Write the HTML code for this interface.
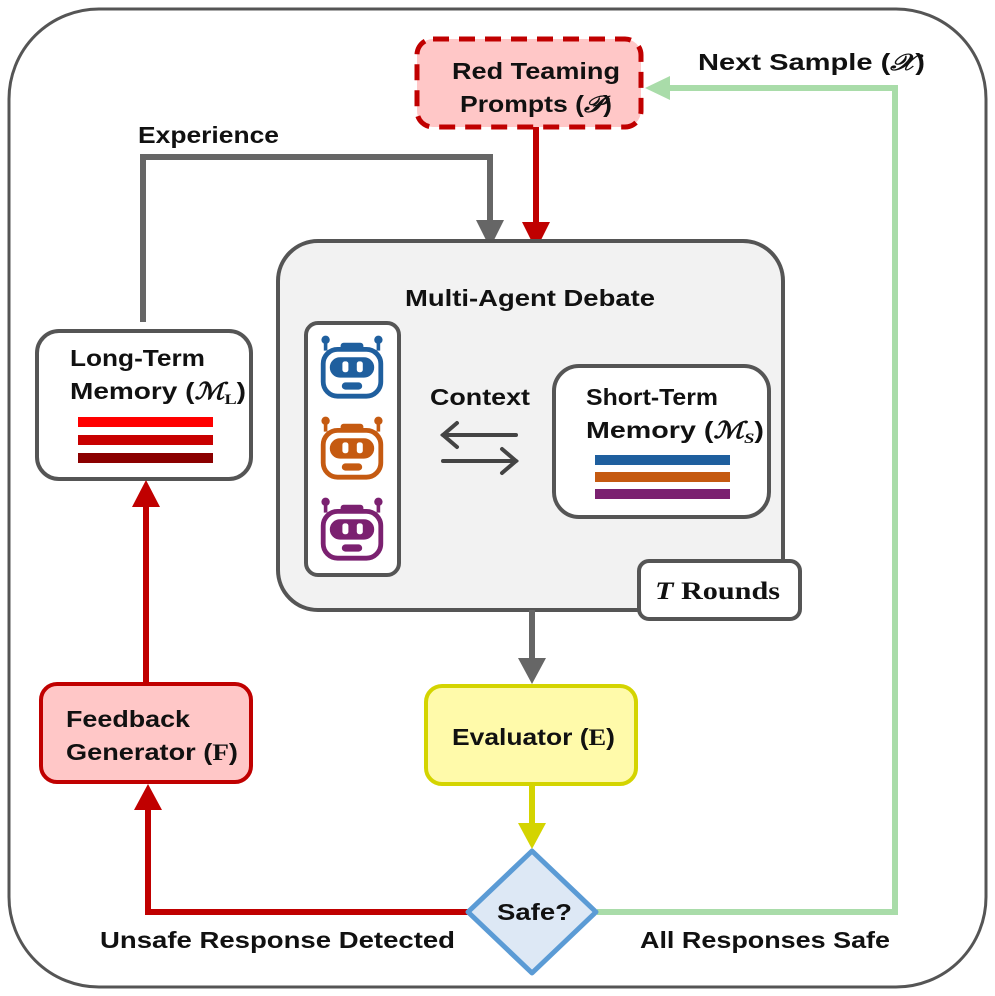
<!DOCTYPE html>
<html><head><meta charset="utf-8"><style>
html,body{margin:0;padding:0;background:#fff;}
svg{display:block;}
text{font-family:"Liberation Sans",sans-serif;font-weight:bold;fill:#111;}
.m{font-family:"Liberation Serif",serif;font-style:italic;}
</style></head><body>
<svg width="995" height="996" viewBox="0 0 995 996" xmlns="http://www.w3.org/2000/svg">
<defs>
<g id="robot">
  <line x1="-22" y1="-20" x2="-22" y2="-12" stroke-width="3"/>
  <line x1="22" y1="-20" x2="22" y2="-12" stroke-width="3"/>
  <circle cx="-22" cy="-21" r="3"/>
  <circle cx="22" cy="-21" r="3"/>
  <rect x="-9" y="-18" width="18" height="6" rx="2"/>
  <rect x="-24" y="-13" width="48" height="39" rx="12" fill="#fff" stroke-width="4"/>
  <rect x="-18" y="-6" width="36" height="16" rx="8"/>
  <rect x="-8" y="-3" width="5" height="9" rx="2" fill="#fff" stroke="none"/>
  <rect x="4" y="-3" width="5" height="9" rx="2" fill="#fff" stroke="none"/>
  <rect x="-8" y="15" width="16" height="5" rx="2.5"/>
</g>
</defs>
<rect x="9" y="9" width="977" height="978" rx="90" fill="#fff" stroke="#555" stroke-width="3"/>

<!-- green loop -->
<polyline points="597,912 895,912 895,88 668,88" fill="none" stroke="#a9dca9" stroke-width="6"/>
<polygon points="645,88 670,76 670,100" fill="#a9dca9"/>
<text x="698" y="70" font-size="23" textLength="227" lengthAdjust="spacingAndGlyphs">Next Sample (<tspan class="m">𝒳</tspan>)</text>

<!-- experience gray -->
<polyline points="143,322 143,157 490,157 490,222" fill="none" stroke="#666" stroke-width="6"/>
<polygon points="476,220 504,220 490,248" fill="#666"/>
<text x="138" y="143" font-size="23" textLength="141" lengthAdjust="spacingAndGlyphs">Experience</text>

<!-- red teaming -->
<line x1="536" y1="126" x2="536" y2="224" stroke="#c00000" stroke-width="6"/>
<polygon points="522,222 550,222 536,250" fill="#c00000"/>
<rect x="417" y="39" width="224" height="88" rx="16" fill="#ffc7c7" stroke="#c00000" stroke-width="5" stroke-dasharray="16,10"/>
<text x="452" y="79" font-size="23" textLength="168" lengthAdjust="spacingAndGlyphs">Red Teaming</text>
<text x="460" y="112" font-size="23" textLength="152" lengthAdjust="spacingAndGlyphs">Prompts (<tspan class="m">𝒫</tspan>)</text>

<!-- MAD -->
<rect x="278" y="241" width="505" height="369" rx="40" fill="#f2f2f2" stroke="#555" stroke-width="4"/>
<text x="405" y="306" font-size="23" textLength="250" lengthAdjust="spacingAndGlyphs">Multi-Agent Debate</text>
<rect x="306" y="323" width="93" height="252" rx="12" fill="#fff" stroke="#555" stroke-width="4"/>
<use href="#robot" transform="translate(352,365) scale(1.2)" fill="#1f5f9e" stroke="#1f5f9e"/>
<use href="#robot" transform="translate(352,446) scale(1.2)" fill="#c55a11" stroke="#c55a11"/>
<use href="#robot" transform="translate(352,527) scale(1.2)" fill="#7b2170" stroke="#7b2170"/>
<text x="430" y="405" font-size="23" textLength="100" lengthAdjust="spacingAndGlyphs">Context</text>
<g stroke="#444" stroke-width="4" fill="none" stroke-linecap="round">
  <line x1="443" y1="435" x2="516" y2="435"/><polyline points="457,423 443,435 457,447"/>
  <line x1="443" y1="461" x2="516" y2="461"/><polyline points="502,449 516,461 502,473"/>
</g>
<rect x="554" y="366" width="215" height="151" rx="25" fill="#fff" stroke="#555" stroke-width="4"/>
<text x="586" y="405" font-size="23" textLength="132" lengthAdjust="spacingAndGlyphs">Short-Term</text>
<text x="586" y="438" font-size="23" textLength="178" lengthAdjust="spacingAndGlyphs">Memory (<tspan class="m">ℳ</tspan><tspan font-size="15" dy="5" class="m">S</tspan><tspan dy="-5">)</tspan></text>
<rect x="595" y="455" width="135" height="10" fill="#1f5f9e"/>
<rect x="595" y="472" width="135" height="10" fill="#c55a11"/>
<rect x="595" y="489" width="135" height="10" fill="#7b2170"/>
<rect x="639" y="561" width="161" height="58" rx="10" fill="#fff" stroke="#555" stroke-width="4"/>
<text x="655" y="599" font-size="25" textLength="125" lengthAdjust="spacingAndGlyphs" style="font-family:'Liberation Serif',serif"><tspan font-style="italic">T</tspan> Rounds</text>

<!-- long term -->
<rect x="37" y="331" width="214" height="148" rx="22" fill="#fff" stroke="#555" stroke-width="4"/>
<text x="70" y="366" font-size="23" textLength="135" lengthAdjust="spacingAndGlyphs">Long-Term</text>
<text x="70" y="399" font-size="23" textLength="176" lengthAdjust="spacingAndGlyphs">Memory (<tspan class="m">ℳ</tspan><tspan font-size="15" dy="5" style="font-family:'Liberation Serif',serif">L</tspan><tspan dy="-5">)</tspan></text>
<rect x="78" y="417" width="135" height="10" fill="#ff0000"/>
<rect x="78" y="435" width="135" height="10" fill="#c80000"/>
<rect x="78" y="453" width="135" height="10" fill="#8b0000"/>

<!-- feedback -->
<line x1="146" y1="683" x2="146" y2="505" stroke="#c00000" stroke-width="6"/>
<polygon points="132,507 160,507 146,480" fill="#c00000"/>
<rect x="41" y="684" width="210" height="98" rx="16" fill="#ffc7c7" stroke="#c00000" stroke-width="4"/>
<text x="66" y="727" font-size="23" textLength="124" lengthAdjust="spacingAndGlyphs">Feedback</text>
<text x="66" y="760" font-size="23" textLength="172" lengthAdjust="spacingAndGlyphs">Generator (<tspan style="font-family:'Liberation Serif',serif">F</tspan>)</text>

<!-- red bottom -->
<polyline points="468,912 148,912 148,808" fill="none" stroke="#c00000" stroke-width="6"/>
<polygon points="134,810 162,810 148,784" fill="#c00000"/>
<text x="100" y="948" font-size="23" textLength="355" lengthAdjust="spacingAndGlyphs">Unsafe Response Detected</text>
<text x="640" y="948" font-size="23" textLength="250" lengthAdjust="spacingAndGlyphs">All Responses Safe</text>

<!-- MAD to evaluator -->
<line x1="532" y1="610" x2="532" y2="660" stroke="#666" stroke-width="6"/>
<polygon points="518,658 546,658 532,684" fill="#666"/>
<rect x="426" y="686" width="210" height="98" rx="16" fill="#fffaaa" stroke="#d4d400" stroke-width="4"/>
<text x="452" y="745" font-size="23" textLength="163" lengthAdjust="spacingAndGlyphs">Evaluator (<tspan style="font-family:'Liberation Serif',serif">E</tspan>)</text>
<line x1="532" y1="784" x2="532" y2="825" stroke="#d4d400" stroke-width="6"/>
<polygon points="518,823 546,823 532,849" fill="#d4d400"/>

<!-- diamond -->
<polygon points="532,851 596,912 532,973 468,912" fill="#dde8f5" stroke="#5b9bd5" stroke-width="5" stroke-linejoin="round"/>
<text x="497" y="920" font-size="23" textLength="75" lengthAdjust="spacingAndGlyphs">Safe?</text>
</svg>
</body></html>
